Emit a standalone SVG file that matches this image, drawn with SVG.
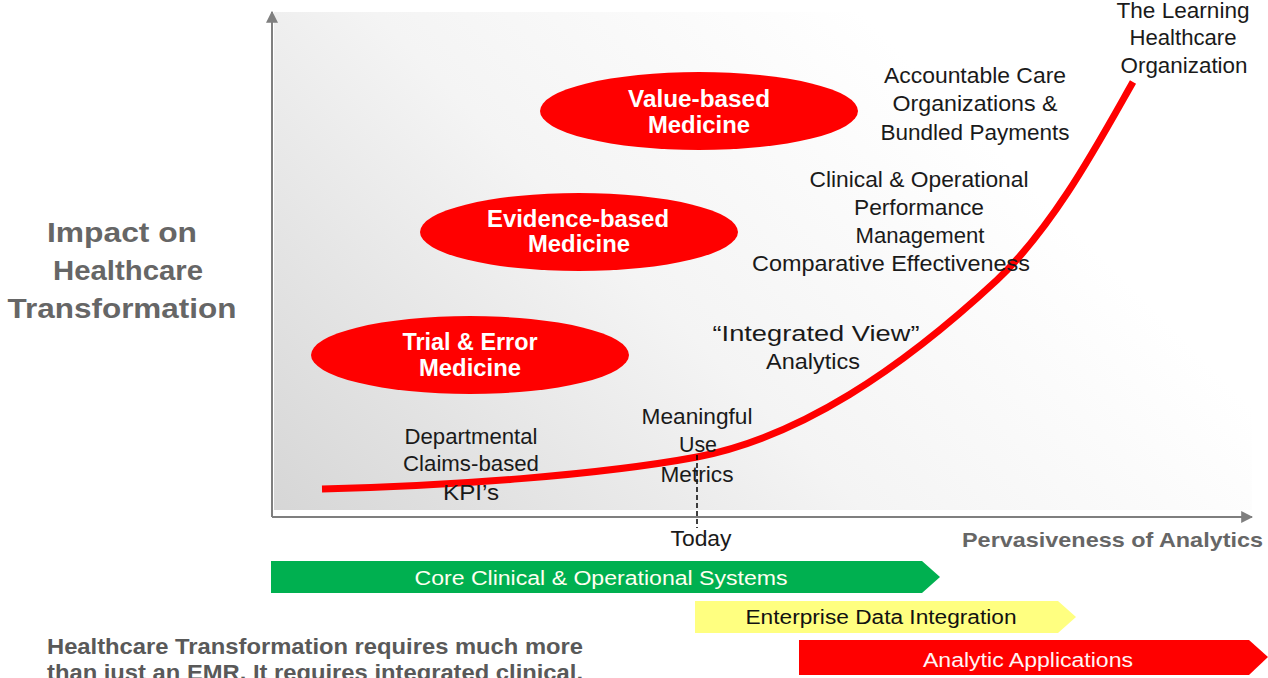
<svg xmlns="http://www.w3.org/2000/svg" width="1268" height="678" viewBox="0 0 1268 678">
  <style>
    .lbl { font-family: "Liberation Sans", Arial, sans-serif; font-size: 22px; fill: #1a1a1a; text-anchor: middle; }
    .oval-text { font-family: "Liberation Sans", Arial, sans-serif; font-size: 23px; font-weight: bold; fill: #ffffff; text-anchor: middle; }
    .oval { fill: #ff0000; }
    .axis-title { font-family: "Liberation Sans", Arial, sans-serif; font-weight: bold; fill: #666666; }
    .bar-text { font-family: "Liberation Sans", Arial, sans-serif; font-size: 20px; text-anchor: middle; }
    .axis { stroke: #7f7f7f; stroke-width: 2; fill: none; }
    .note { font-family: "Liberation Sans", Arial, sans-serif; font-size: 22px; font-weight: bold; fill: #595959; }
  </style>
  <defs>
    <linearGradient id="panelFill" gradientUnits="userSpaceOnUse" x1="272" y1="512" x2="820" y2="-30">
      <stop offset="0" stop-color="#d6d6d6"/>
      <stop offset="0.55" stop-color="#f4f4f4"/>
      <stop offset="1" stop-color="#ffffff"/>
    </linearGradient>
    <marker id="axisHead" viewBox="0 0 10 10" refX="9" refY="5" markerWidth="6" markerHeight="6" orient="auto" markerUnits="strokeWidth">
      <path d="M0,0 L10,5 L0,10 z" fill="#7f7f7f"/>
    </marker>
  </defs>

  <rect width="1268" height="678" fill="#ffffff"/>

  <!-- chart area background -->
  <rect x="274" y="12" width="978" height="498" fill="url(#panelFill)"/>

  <!-- axes, growth curve and the "today" marker -->
  <g id="connectors">
    <path class="axis" d="M272,517 L272,12" marker-end="url(#axisHead)"/>
    <path class="axis" d="M272,517 L1252,517" marker-end="url(#axisHead)"/>
    <path d="M322,489 C450,486 600,475 697,457 C800,437 900,370 997,280 C1055,225 1100,140 1133,82" fill="none" stroke="#ff0000" stroke-width="7"/>
    <line x1="697" y1="455" x2="697" y2="528" stroke="#000000" stroke-width="1.5" stroke-dasharray="5,3"/>
  </g>

  <!-- axis titles -->
  <g id="y-axis-title" class="axis-title" font-size="27" text-anchor="middle">
    <text x="122" y="242" textLength="150" lengthAdjust="spacingAndGlyphs">Impact on</text>
    <text x="128" y="280" textLength="150" lengthAdjust="spacingAndGlyphs">Healthcare</text>
    <text x="122" y="318" textLength="229" lengthAdjust="spacingAndGlyphs">Transformation</text>
  </g>
  <g id="x-axis-title">
    <text class="axis-title" x="962" y="547" font-size="21" textLength="301" lengthAdjust="spacingAndGlyphs">Pervasiveness of Analytics</text>
    <text class="lbl" x="701" y="546" font-size="18" textLength="61" lengthAdjust="spacingAndGlyphs">Today</text>
  </g>

  <!-- medicine stages -->
  <g id="value-based">
    <ellipse class="oval" cx="699" cy="111" rx="159" ry="39"/>
    <text class="oval-text" x="699" y="107" textLength="142" lengthAdjust="spacingAndGlyphs">Value-based</text>
    <text class="oval-text" x="699" y="133" textLength="102" lengthAdjust="spacingAndGlyphs">Medicine</text>
  </g>
  <g id="evidence-based">
    <ellipse class="oval" cx="579" cy="232" rx="159" ry="39"/>
    <text class="oval-text" x="578" y="227" textLength="182" lengthAdjust="spacingAndGlyphs">Evidence-based</text>
    <text class="oval-text" x="579" y="252" textLength="102" lengthAdjust="spacingAndGlyphs">Medicine</text>
  </g>
  <g id="trial-and-error">
    <ellipse class="oval" cx="470" cy="355" rx="159" ry="39"/>
    <text class="oval-text" x="470" y="350" textLength="135" lengthAdjust="spacingAndGlyphs">Trial &amp; Error</text>
    <text class="oval-text" x="470" y="376" textLength="102" lengthAdjust="spacingAndGlyphs">Medicine</text>
  </g>

  <!-- milestones along the curve -->
  <g id="learning-org" class="lbl">
    <text x="1183" y="18" textLength="133" lengthAdjust="spacingAndGlyphs">The Learning</text>
    <text x="1183" y="45" textLength="107" lengthAdjust="spacingAndGlyphs">Healthcare</text>
    <text x="1184" y="73" textLength="127" lengthAdjust="spacingAndGlyphs">Organization</text>
  </g>
  <g id="aco" class="lbl">
    <text x="975" y="83" textLength="182" lengthAdjust="spacingAndGlyphs">Accountable Care</text>
    <text x="975" y="111" textLength="165" lengthAdjust="spacingAndGlyphs">Organizations &amp;</text>
    <text x="975" y="140" textLength="189" lengthAdjust="spacingAndGlyphs">Bundled Payments</text>
  </g>
  <g id="performance" class="lbl">
    <text x="919" y="187" textLength="219" lengthAdjust="spacingAndGlyphs">Clinical &amp; Operational</text>
    <text x="919" y="215" textLength="130" lengthAdjust="spacingAndGlyphs">Performance</text>
    <text x="920" y="243" textLength="129" lengthAdjust="spacingAndGlyphs">Management</text>
    <text x="891" y="271" textLength="278" lengthAdjust="spacingAndGlyphs">Comparative Effectiveness</text>
  </g>
  <g id="integrated-view" class="lbl">
    <text x="816" y="341" textLength="207" lengthAdjust="spacingAndGlyphs">“Integrated View”</text>
    <text x="813" y="369" textLength="94" lengthAdjust="spacingAndGlyphs">Analytics</text>
  </g>
  <g id="meaningful-use" class="lbl">
    <text x="697" y="424" textLength="111" lengthAdjust="spacingAndGlyphs">Meaningful</text>
    <text x="698" y="452" textLength="38" lengthAdjust="spacingAndGlyphs">Use</text>
    <text x="697" y="482" textLength="73" lengthAdjust="spacingAndGlyphs">Metrics</text>
  </g>
  <g id="departmental" class="lbl">
    <text x="471" y="444" textLength="133" lengthAdjust="spacingAndGlyphs">Departmental</text>
    <text x="471" y="471" textLength="136" lengthAdjust="spacingAndGlyphs">Claims-based</text>
    <text x="471" y="500" textLength="56" lengthAdjust="spacingAndGlyphs">KPI’s</text>
  </g>

  <!-- capability bars -->
  <g id="core-systems">
    <polygon points="271,561 922,561 940,577 922,593 271,593" fill="#00b050"/>
    <text class="bar-text" x="601" y="585" fill="#fffff0" textLength="373" lengthAdjust="spacingAndGlyphs">Core Clinical &amp; Operational Systems</text>
  </g>
  <g id="data-integration">
    <polygon points="695,601 1058,601 1076,617 1058,633 695,633" fill="#ffff80"/>
    <text class="bar-text" x="881" y="624" fill="#111111" textLength="271" lengthAdjust="spacingAndGlyphs">Enterprise Data Integration</text>
  </g>
  <g id="analytic-apps">
    <polygon points="799,640 1249,640 1268,657 1249,675 799,675" fill="#ff0000"/>
    <text class="bar-text" x="1028" y="667" fill="#fff4f4" textLength="210" lengthAdjust="spacingAndGlyphs">Analytic Applications</text>
  </g>

  <!-- explanatory note -->
  <g id="note" class="note">
    <text x="47" y="654" textLength="536" lengthAdjust="spacingAndGlyphs">Healthcare Transformation requires much more</text>
    <text x="47" y="680" textLength="536" lengthAdjust="spacingAndGlyphs">than just an EMR.  It requires integrated clinical,</text>
  </g>
</svg>
